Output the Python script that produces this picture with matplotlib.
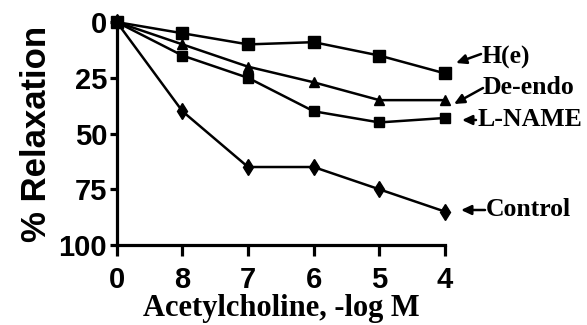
import numpy as np
import matplotlib
matplotlib.use("Agg")
import matplotlib.pyplot as plt

# Data (% relaxation at each acetylcholine concentration)
tick_labels = ["0", "8", "7", "6", "5", "4"]
h_e = [0, 5, 10, 9, 15, 23]
de_endo = [0, 10, 20, 27, 35, 35]
l_name = [0, 15, 25, 40, 45, 43]
control = [0, 40, 65, 65, 75, 85]

x = np.arange(len(tick_labels))

fig = plt.figure(figsize=(5.87, 3.25), dpi=100)
ax = fig.add_axes([0.199, 0.246, 0.559, 0.686])

lw = 1.8
ax.plot(x, h_e, "-s", color="black", lw=lw, ms=8.5, clip_on=False, zorder=3)
ax.plot(x, de_endo, "-^", color="black", lw=lw, ms=7.5, clip_on=False, zorder=3)
ax.plot(x, l_name, "-s", color="black", lw=lw, ms=7.5, clip_on=False, zorder=3)
ax.plot(x, control, "-d", color="black", lw=lw, ms=8, clip_on=False, zorder=3)

ax.set_xlim(0, 5)
ax.set_ylim(100, 0)
ax.set_xticks(x)
ax.set_xticklabels(tick_labels)
ax.set_yticks([0, 25, 50, 75, 100])

for side in ["top", "right"]:
    ax.spines[side].set_visible(False)
for side in ["left", "bottom"]:
    ax.spines[side].set_linewidth(2.3)

ax.tick_params(axis="x", length=8, width=2.3, pad=7)
ax.tick_params(axis="y", length=5, width=2.3, pad=2)
for lab in ax.get_xticklabels() + ax.get_yticklabels():
    lab.set_fontfamily("Liberation Sans")
    lab.set_fontweight("bold")
    lab.set_fontsize(21)

ax.set_ylabel("% Relaxation", fontfamily="Liberation Sans", fontweight="bold",
              fontsize=25, labelpad=4)
ax.set_xlabel("Acetylcholine, -log M", fontfamily="Liberation Serif",
              fontweight="bold", fontsize=22, labelpad=0)

# labels with arrows, figure pixel coords (origin bottom-left)
H = 325
notes = [
    ("H(e)", (481, H - 57), (456, H - 63), (481, H - 54)),
    ("De-endo", (483, H - 88), (454, H - 104), (483, H - 88)),
    ("L-NAME", (478, H - 120), (462, H - 120), (476, H - 120)),
    ("Control", (486, H - 210), (461, H - 210), (485, H - 210)),
]
for txt, tpos, tip, tail in notes:
    fig.text(tpos[0], tpos[1], txt, transform=None, ha="left", va="center",
             fontfamily="Liberation Serif", fontweight="bold", fontsize=18.5)
    ax.annotate("", xy=tip, xycoords="figure pixels", xytext=tail,
                textcoords="figure pixels", annotation_clip=False,
                arrowprops=dict(arrowstyle="-|>,head_length=0.6,head_width=0.28",
                                color="black", lw=1.8, shrinkA=0, shrinkB=0))

fig.savefig("out.png", dpi=100)
